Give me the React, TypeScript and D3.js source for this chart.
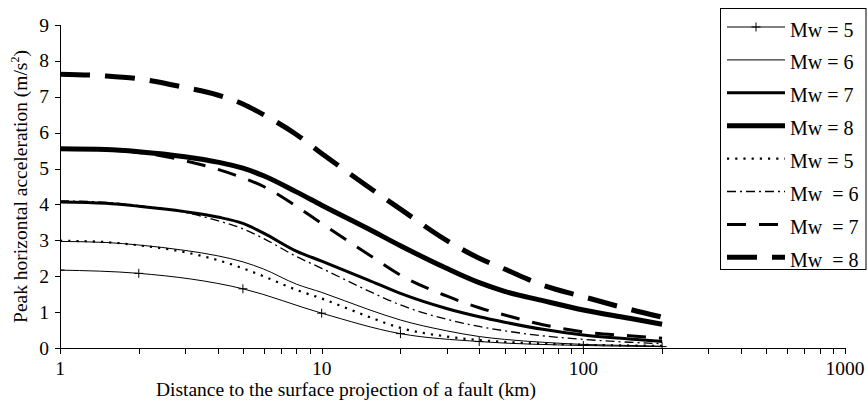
import React from "react";
import * as d3 from "d3";

// Distances (km) at which the attenuation curves are sampled
const distances = [1, 1.5, 2, 3, 4, 5, 6, 8, 10, 15, 20, 30, 40, 50, 70, 100, 150, 200];
// Distances of the plotted points for the first Mw = 5 relation
const markerDistances = [1, 2, 5, 10, 20, 40, 100, 200];

// Peak horizontal acceleration (m/s^2)
const pgaMw5A = [2.17, 2.08, 1.65, 0.97, 0.4, 0.18, 0.07, 0.04];
const pgaMw6A = [2.97, 2.94, 2.87, 2.72, 2.57, 2.4, 2.2, 1.78, 1.55, 1.08, 0.78, 0.48, 0.32, 0.24, 0.16, 0.1, 0.07, 0.05];
const pgaMw7A = [4.07, 4.03, 3.95, 3.8, 3.65, 3.47, 3.2, 2.7, 2.42, 1.9, 1.52, 1.1, 0.87, 0.72, 0.52, 0.36, 0.25, 0.18];
const pgaMw8A = [5.55, 5.53, 5.47, 5.33, 5.18, 5.01, 4.8, 4.35, 3.98, 3.33, 2.85, 2.22, 1.82, 1.58, 1.32, 1.06, 0.83, 0.66];
const pgaMw5B = [2.99, 2.95, 2.86, 2.67, 2.45, 2.22, 2.0, 1.62, 1.38, 0.88, 0.56, 0.32, 0.22, 0.17, 0.12, 0.09, 0.07, 0.06];
const pgaMw6B = [4.1, 4.06, 3.97, 3.78, 3.55, 3.32, 3.05, 2.55, 2.22, 1.6, 1.2, 0.8, 0.6, 0.48, 0.34, 0.24, 0.16, 0.12];
const pgaMw7B = [5.55, 5.53, 5.45, 5.22, 4.98, 4.74, 4.5, 3.95, 3.47, 2.62, 2.03, 1.45, 1.12, 0.92, 0.65, 0.45, 0.34, 0.27];
const pgaMw8B = [7.63, 7.58, 7.5, 7.26, 7.05, 6.8, 6.5, 5.95, 5.42, 4.5, 3.87, 3.0, 2.5, 2.2, 1.75, 1.43, 1.08, 0.86];

const legendLabels = ["Mw = 5", "Mw = 6", "Mw = 7", "Mw = 8", "Mw = 5", "Mw  = 6", "Mw  = 7", "Mw  = 8"];
const yTickValues = [0, 1, 2, 3, 4, 5, 6, 7, 8, 9];
const xTickLabels = [1, 10, 100, 1000];

const FONT = "'Liberation Serif', 'Times New Roman', serif";

type Series = {
  dists: number[];
  values: number[];
  width: number;
  dash?: string;
  marker?: boolean;
};

const series: Series[] = [
  { dists: markerDistances, values: pgaMw5A, width: 1, marker: true },
  { dists: distances, values: pgaMw6A, width: 1 },
  { dists: distances, values: pgaMw7A, width: 3 },
  { dists: distances, values: pgaMw8A, width: 5 },
  { dists: distances, values: pgaMw5B, width: 2.2, dash: "2.2 6" },
  { dists: distances, values: pgaMw6B, width: 1.3, dash: "9 4 2 4" },
  { dists: distances, values: pgaMw7B, width: 3, dash: "19 13" },
  { dists: distances, values: pgaMw8B, width: 5, dash: "30 15" },
];

function Plus({ cx, cy, r }: { cx: number; cy: number; r: number }) {
  return (
    <g stroke="#000" strokeWidth={1}>
      <line x1={cx - r} x2={cx + r} y1={cy} y2={cy} />
      <line x1={cx} x2={cx} y1={cy - r} y2={cy + r} />
    </g>
  );
}

export default function App() {
  const width = 868;
  const height = 405;
  const left = 60;
  const right = 845;
  const top = 25;
  const bottom = 348;

  const x = d3.scaleLog().domain([1, 1000]).range([left, right]);
  const y = d3.scaleLinear().domain([0, 9]).range([bottom, top]);

  const line = d3
    .line<[number, number]>()
    .x((d) => x(d[0]))
    .y((d) => y(d[1]))
    .curve(d3.curveMonotoneX);

  const xTicks = x.ticks();

  const legendX0 = 720.5;
  const legendY0 = 8.5;
  const rowStep = 32.9;
  const rowCenter0 = 30;

  return (
    <svg
      width={width}
      height={height}
      style={{ position: "absolute", left: 0, top: 0, background: "#fff" }}
      fontFamily={FONT}
    >
      <defs>
        <clipPath id="plot-clip">
          <rect x={left} y={0} width={right - left} height={bottom} />
        </clipPath>
      </defs>
      <rect width={width} height={height} fill="#fff" />

      {/* curves */}
      <g clipPath="url(#plot-clip)" fill="none" stroke="#000">
        {series.map((s, i) => {
          const pts = s.dists.map((d, j) => [d, s.values[j]] as [number, number]);
          return (
            <g key={i}>
              <path
                d={line(pts) || ""}
                strokeWidth={s.width}
                strokeDasharray={s.dash}
                strokeLinejoin="round"
              />
              {s.marker &&
                pts.map((p, j) => <Plus key={j} cx={x(p[0])} cy={y(p[1])} r={4.5} />)}
            </g>
          );
        })}
      </g>

      {/* y axis */}
      <g stroke="#000" strokeWidth={1}>
        <line x1={left + 0.5} x2={left + 0.5} y1={top} y2={bottom} />
        {yTickValues.map((v) => (
          <line key={v} x1={left - 5} x2={left + 0.5} y1={Math.round(y(v)) + 0.5} y2={Math.round(y(v)) + 0.5} />
        ))}
      </g>
      <g fontSize={19.5} textAnchor="end">
        {yTickValues.map((v) => (
          <text key={v} x={49} y={y(v) + 6.5}>
            {v}
          </text>
        ))}
      </g>

      {/* x axis */}
      <g stroke="#000" strokeWidth={1}>
        <line x1={left} x2={right + 0.5} y1={bottom + 0.5} y2={bottom + 0.5} />
        {xTicks.map((t, i) => (
          <line
            key={i}
            x1={Math.round(x(t)) + 0.5}
            x2={Math.round(x(t)) + 0.5}
            y1={bottom}
            y2={bottom + 6}
          />
        ))}
      </g>
      <g fontSize={19.5} textAnchor="middle">
        {xTickLabels.map((t) => (
          <text key={t} x={x(t)} y={375}>
            {t}
          </text>
        ))}
      </g>

      {/* axis titles */}
      <text x={346} y={396} fontSize={19.5} textAnchor="middle">
        Distance to the surface projection of a fault (km)
      </text>
      <text
        transform={`translate(27,${(top + bottom) / 2}) rotate(-90)`}
        fontSize={19.5}
        textAnchor="middle"
      >
        Peak horizontal acceleration (m/s
        <tspan fontSize={12} dy={-8}>
          2
        </tspan>
        <tspan dy={8}>)</tspan>
      </text>

      {/* legend */}
      <rect
        x={legendX0}
        y={legendY0}
        width={145.5}
        height={261}
        fill="#fff"
        stroke="#000"
        strokeWidth={1}
      />
      {series.map((s, i) => {
        const cy = rowCenter0 + rowStep * i;
        const ly = cy - 3;
        return (
          <g key={i}>
            <line
              x1={727}
              x2={785}
              y1={ly}
              y2={ly}
              stroke="#000"
              strokeWidth={s.width}
              strokeDasharray={s.dash}
            />
            {s.marker && <Plus cx={756} cy={ly} r={4.5} />}
            <text x={790} y={cy + 6.5} fontSize={20} style={{ whiteSpace: "pre" }}>
              {legendLabels[i]}
            </text>
          </g>
        );
      })}
    </svg>
  );
}
